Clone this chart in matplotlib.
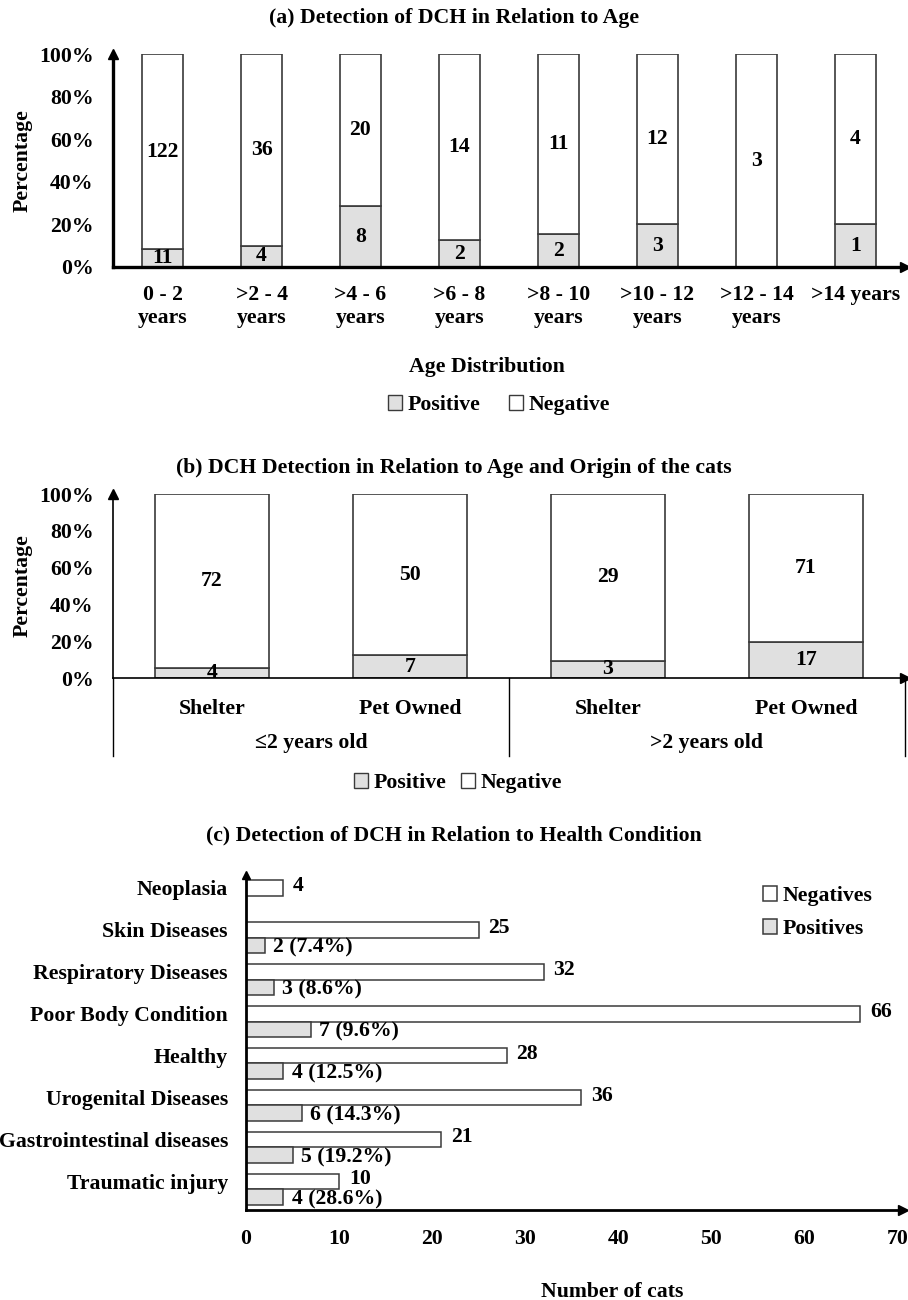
import matplotlib
matplotlib.use('Agg')
import matplotlib.pyplot as plt
import matplotlib.transforms as mtransforms
from matplotlib.patches import Patch

plt.rcParams['font.family'] = ['Liberation Serif', 'DejaVu Serif']
plt.rcParams['font.weight'] = 'bold'

# (a) age groups
age_labels = ['0 - 2\nyears', '>2 - 4\nyears', '>4 - 6\nyears', '>6 - 8\nyears',
              '>8 - 10\nyears', '>10 - 12\nyears', '>12 - 14\nyears', '>14 years']
age_pos = [11, 4, 8, 2, 2, 3, 0, 1]
age_neg = [122, 36, 20, 14, 11, 12, 3, 4]

# (b) age and origin
origin_labels = ['Shelter', 'Pet Owned', 'Shelter', 'Pet Owned']
origin_groups = ['\u22642 years old', '>2 years old']
origin_pos = [4, 7, 3, 17]
origin_neg = [72, 50, 29, 71]

# (c) health condition
health_labels = ['Neoplasia', 'Skin Diseases', 'Respiratory Diseases', 'Poor Body Condition',
                 'Healthy', 'Urogenital Diseases', 'Gastrointestinal diseases', 'Traumatic injury']
health_neg = [4, 25, 32, 66, 28, 36, 21, 10]
health_pos = [0, 2, 3, 7, 4, 6, 5, 4]

POS_COLOR = '#e0e0e0'
EDGE = '#3a3a3a'
FS = 15.7

W, H = 908, 1300
fig = plt.figure(figsize=(W / 100, H / 100), dpi=100)


def rect(x0, y0, x1, y1):
    # pixel box (top-left origin) -> figure fraction
    return [x0 / W, 1 - y1 / H, (x1 - x0) / W, (y1 - y0) / H]


def arrows(ax, lw):
    for side in ['top', 'right']:
        ax.spines[side].set_visible(False)
    for side in ['left', 'bottom']:
        ax.spines[side].set_linewidth(lw)
    ax.plot(1, 0, '>', color='k', ms=7, transform=ax.transAxes, clip_on=False)
    ax.plot(0, 1, '^', color='k', ms=7, transform=ax.transAxes, clip_on=False)


def stacked_pct(ax, pos, neg, width):
    x = list(range(len(pos)))
    tot = [p + n for p, n in zip(pos, neg)]
    pp = [100 * p / t for p, t in zip(pos, tot)]
    nn = [100 * n / t for n, t in zip(neg, tot)]
    ax.bar(x, pp, width, color=POS_COLOR, edgecolor=EDGE, linewidth=1.2, zorder=2)
    ax.bar(x, nn, width, bottom=pp, color='white', edgecolor=EDGE, linewidth=1.2, zorder=2)
    for i in x:
        if pos[i] > 0:
            ax.text(i, pp[i] / 2, str(pos[i]), ha='center', va='center', fontsize=FS, zorder=3)
        ax.text(i, pp[i] + nn[i] / 2, str(neg[i]), ha='center', va='center', fontsize=FS, zorder=3)
    ax.set_ylim(0, 100)
    ax.set_yticks([0, 20, 40, 60, 80, 100])
    ax.set_yticklabels([f'{v}%' for v in range(0, 101, 20)], fontsize=FS)
    ax.tick_params(axis='y', length=0, pad=14)
    ax.set_ylabel('Percentage', fontsize=FS, fontweight='bold')


# ---------- panel (a)
ax1 = fig.add_axes(rect(113, 54, 905, 267))
stacked_pct(ax1, age_pos, age_neg, 0.41)
ax1.set_xlim(-0.5, 7.5)
ax1.set_xticks(range(len(age_labels)))
ax1.set_xticklabels(age_labels, fontsize=FS, linespacing=1.2)
ax1.tick_params(axis='x', length=0, pad=13)
ax1.yaxis.set_label_coords(-0.101, 0.5)
arrows(ax1, 2.4)
fig.text(0.5, 1 - 18 / H, '(a) Detection of DCH in Relation to Age', ha='center', va='center', fontsize=FS)
fig.text(487 / W, 1 - 367 / H, 'Age Distribution', ha='center', va='center', fontsize=FS)
h_pos = Patch(facecolor=POS_COLOR, edgecolor=EDGE, label='Positive')
h_neg = Patch(facecolor='white', edgecolor=EDGE, label='Negative')
fig.legend(handles=[h_pos, h_neg], loc='center', bbox_to_anchor=(499 / W, 1 - 405 / H), ncol=2,
           frameon=False, fontsize=FS, handlelength=0.65, handleheight=0.65, handletextpad=0.25,
           columnspacing=1.3)

# ---------- panel (b)
ax2 = fig.add_axes(rect(113, 494, 905, 678))
stacked_pct(ax2, origin_pos, origin_neg, 0.58)
ax2.set_xlim(-0.5, 3.5)
ax2.set_xticks(range(len(origin_labels)))
ax2.set_xticklabels(origin_labels, fontsize=FS)
ax2.tick_params(axis='x', length=0, pad=15)
ax2.yaxis.set_label_coords(-0.101, 0.5)
arrows(ax2, 1.2)
trans = mtransforms.blended_transform_factory(ax2.transData, ax2.transAxes)
low = -(756 - 678) / (678 - 494)
for xv in [-0.5, 1.5, 3.5]:
    ax2.plot([xv, xv], [0, low], color='k', lw=1.0, transform=trans, clip_on=False)
for gi, g in enumerate(origin_groups):
    ax2.text(0.5 + 2 * gi, -(743 - 678) / (678 - 494), g, transform=trans,
             ha='center', va='center', fontsize=FS)
fig.text(0.5, 1 - 468 / H, '(b) DCH Detection in Relation to Age and Origin of the cats',
         ha='center', va='center', fontsize=FS)
fig.legend(handles=[h_pos, h_neg], loc='center', bbox_to_anchor=(458 / W, 1 - 783 / H), ncol=2,
           frameon=False, fontsize=FS, handlelength=0.65, handleheight=0.65, handletextpad=0.25,
           columnspacing=0.7)

# ---------- panel (c)
ax3 = fig.add_axes(rect(246, 875, 903, 1210))
bh = 0.37
y = list(range(len(health_labels)))
ax3.barh(y, health_neg, bh, color='white', edgecolor=EDGE, linewidth=1.1, label='Negatives')
ax3.barh([v + bh for v in y], health_pos, bh, color=POS_COLOR, edgecolor=EDGE, linewidth=1.1,
         label='Positives')
for i in y:
    ax3.annotate(str(health_neg[i]), (health_neg[i], i), xytext=(7, 1.5), textcoords='offset points',
                 ha='left', va='center', fontsize=FS)
    if health_pos[i] > 0:
        pct = 100 * health_pos[i] / (health_pos[i] + health_neg[i])
        ax3.annotate(f'{health_pos[i]} ({pct:.1f}%)', (health_pos[i], i + bh), xytext=(6, -1.5),
                     textcoords='offset points', ha='left', va='center', fontsize=FS)
ax3.set_xlim(0, 70.6)
ax3.set_ylim(7.68, -0.31)
ax3.set_xticks(range(0, 71, 10))
ax3.set_xticklabels([str(v) for v in range(0, 71, 10)], fontsize=FS)
ax3.set_yticks(y)
ax3.set_yticklabels(health_labels, fontsize=FS)
ax3.tick_params(axis='x', length=0, pad=14)
ax3.tick_params(axis='y', length=0, pad=13)
for side in ['top', 'right']:
    ax3.spines[side].set_visible(False)
for side in ['left', 'bottom']:
    ax3.spines[side].set_linewidth(2.0)
ax3.plot(1, 0, '>', color='k', ms=7, transform=ax3.transAxes, clip_on=False)
ax3.plot(0, 1, '^', color='k', ms=6, transform=ax3.transAxes, clip_on=False)
ax3.legend(loc='upper left', bbox_to_anchor=(763 / W, 1 - 886 / H), bbox_transform=fig.transFigure,
           frameon=False, fontsize=FS, handlelength=0.65, handleheight=0.65, handletextpad=0.25,
           labelspacing=0.6, borderpad=0, borderaxespad=0)
fig.text(0.5, 1 - 835 / H, '(c) Detection of DCH in Relation to Health Condition',
         ha='center', va='center', fontsize=FS)
fig.text(612 / W, 1 - 1292 / H, 'Number of cats', ha='center', va='center', fontsize=FS)

fig.savefig('out.png', dpi=100, facecolor='white')
